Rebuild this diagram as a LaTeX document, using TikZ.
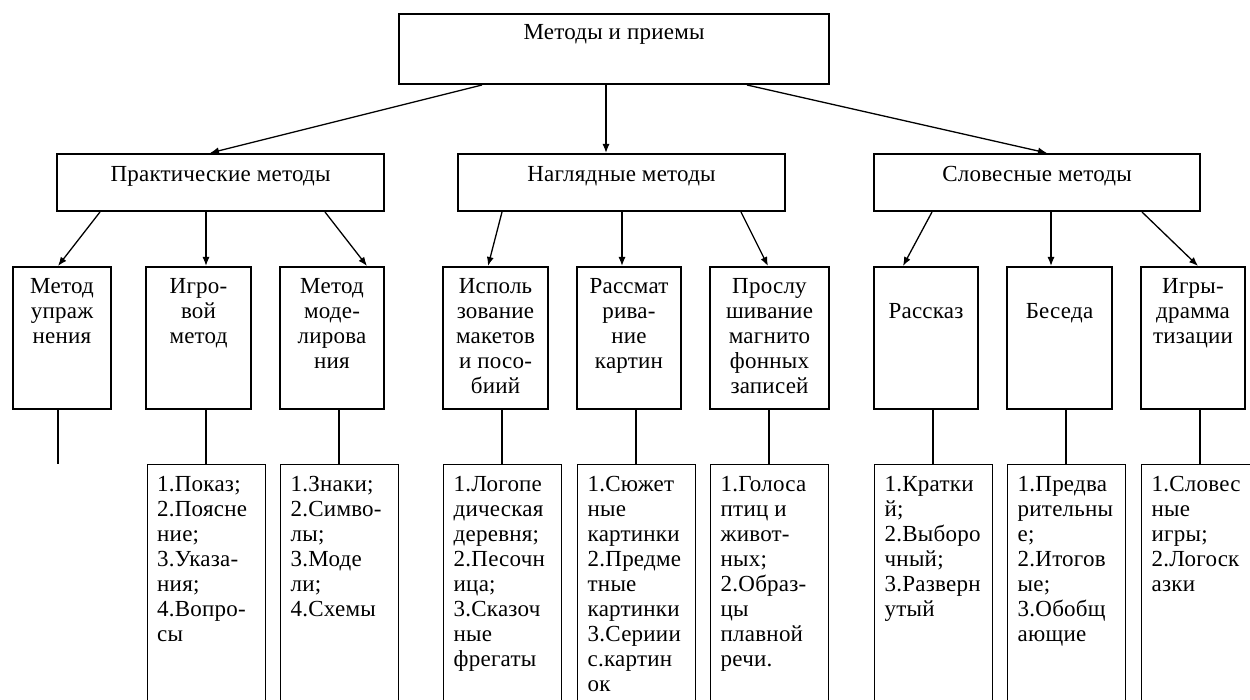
\documentclass[tikz,border=0pt]{standalone}
\usepackage{fontspec}
\setmainfont[LetterSpace=1]{Liberation Serif}
\usetikzlibrary{arrows.meta,calc}
\newcommand{\myfs}{\fontsize{23}{25}\selectfont}
\tikzset{
  tbox/.style={draw, line width=2pt, inner sep=0pt, minimum height=#1},
  lbox/.style={draw, line width=2pt, inner sep=0pt, minimum height=142pt},
  sbox/.style={draw, line width=1pt, inner sep=0pt, minimum height=256pt},
  ctxt/.style={anchor=north, inner sep=0pt, align=center, font=\myfs},
  ltxt/.style={anchor=north west, inner sep=0pt, align=left, font=\myfs},
  arr/.style={line width=1.3pt, -{Latex[length=9pt,width=7pt]}},
  lnk/.style={line width=1.3pt}
}
\begin{document}
\begin{tikzpicture}[x=1pt,y=-1pt]
\useasboundingbox (0,0) rectangle (1250,700);
\fill[white] (0,0) rectangle (1250,700);
\clip (0,0) rectangle (1250,700);
% top
\node[tbox=70pt, minimum width=430pt] (T) at (614,49) {};
\node[ctxt] (Tt) at ($(T.north)+(0,8.5)$) {\strut Методы и приемы};
% level 2
\node[tbox=57pt, minimum width=327pt] (P) at (220.5,182.5) {};
\node[tbox=57pt, minimum width=327pt] (N) at (621.5,182.5) {};
\node[tbox=57pt, minimum width=326pt] (S) at (1037,182.5) {};
\node[ctxt] (Pt) at ($(P.north)+(0,10.5)$) {\strut Практические методы};
\node[ctxt] (Nt) at ($(N.north)+(0,10.5)$) {\strut Наглядные методы};
\node[ctxt] (St) at ($(S.north)+(0,10.5)$) {\strut Словесные методы};
% level 3
\node[lbox, minimum width=98pt] (m1) at (62,338) {};
\node[lbox, minimum width=105pt] (m2) at (198.5,338) {};
\node[lbox, minimum width=104pt] (m3) at (332,338) {};
\node[lbox, minimum width=105pt] (m4) at (495.5,338) {};
\node[lbox, minimum width=104pt] (m5) at (629,338) {};
\node[lbox, minimum width=119pt] (m6) at (769.5,338) {};
\node[lbox, minimum width=104pt] (m7) at (926,338) {};
\node[lbox, minimum width=105pt] (m8) at (1059.5,338) {};
\node[lbox, minimum width=104pt] (m9) at (1193,338) {};
\node[ctxt] (m1t) at ($(m1.north)+(0,9.5)$) {\strut Метод\\упраж\\нения};
\node[ctxt] (m2t) at ($(m2.north)+(0,9.5)$) {\strut Игро-\\вой\\метод};
\node[ctxt] (m3t) at ($(m3.north)+(0,9.5)$) {\strut Метод\\моде-\\лирова\\ния};
\node[ctxt] (m4t) at ($(m4.north)+(0,9.5)$) {\strut Исполь\\зование\\макетов\\и посо-\\биий};
\node[ctxt] (m5t) at ($(m5.north)+(0,9.5)$) {\strut Рассмат\\рива-\\ние\\картин};
\node[ctxt] (m6t) at ($(m6.north)+(0,9.5)$) {\strut Прослу\\шивание\\магнито\\фонных\\записей};
\node[ctxt] (m7t) at ($(m7.north)+(0,34.5)$) {\strut Рассказ};
\node[ctxt] (m8t) at ($(m8.north)+(0,34.5)$) {\strut Беседа};
\node[ctxt] (m9t) at ($(m9.north)+(0,9.5)$) {\strut Игры-\\драмма\\тизации};
% bottom
\node[sbox, minimum width=118pt] (b2) at (206,592) {};
\node[sbox, minimum width=118pt] (b3) at (339,592) {};
\node[sbox, minimum width=118pt] (b4) at (502,592) {};
\node[sbox, minimum width=118pt] (b5) at (636,592) {};
\node[sbox, minimum width=118pt] (b6) at (769,592) {};
\node[sbox, minimum width=118pt] (b7) at (933,592) {};
\node[sbox, minimum width=118pt] (b8) at (1066,592) {};
\node[sbox, minimum width=118pt] (b9) at (1200,592) {};
\node[ltxt] (b2t) at ($(b2.north west)+(10.5,10.5)$) {\strut 1.Показ;\\2.Поясне\\ние;\\3.Указа-\\ния;\\4.Вопро-\\сы};
\node[ltxt] (b3t) at ($(b3.north west)+(11,10.5)$) {\strut 1.Знаки;\\2.Симво-\\лы;\\3.Моде\\ли;\\4.Схемы};
\node[ltxt] (b4t) at ($(b4.north west)+(11,10.5)$) {\strut 1.Логопе\\дическая\\деревня;\\2.Песочн\\ица;\\3.Сказоч\\ные\\фрегаты};
\node[ltxt] (b5t) at ($(b5.north west)+(11,10.5)$) {\strut 1.Сюжет\\ные\\картинки\\2.Предме\\тные\\картинки\\3.Сериии\\с.картин\\ок};
\node[ltxt] (b6t) at ($(b6.north west)+(11,10.5)$) {\strut 1.Голоса\\птиц и\\живот-\\ных;\\2.Образ-\\цы\\плавной\\речи.};
\node[ltxt] (b7t) at ($(b7.north west)+(11,10.5)$) {\strut 1.Кратки\\й;\\2.Выборо\\чный;\\3.Разверн\\утый};
\node[ltxt] (b8t) at ($(b8.north west)+(11,10.5)$) {\strut 1.Предва\\рительны\\е;\\2.Итогов\\ые;\\3.Обобщ\\ающие};
\node[ltxt] (b9t) at ($(b9.north west)+(11,10.5)$) {\strut 1.Словес\\ные\\игры;\\2.Логоск\\азки};
% arrows top -> level 2
\draw[arr] ([xshift=-132pt]T.south) -- ([xshift=-10.5pt]P.north);
\draw[arr] ([xshift=-8pt]T.south) -- ([xshift=-15.5pt]N.north);
\draw[arr] ([xshift=133pt]T.south) -- ([xshift=10pt]S.north);
% level 2 -> level 3
\draw[arr] ([xshift=-120.5pt]P.south) -- ([xshift=-4pt]m1.north);
\draw[arr] ([xshift=-14.5pt]P.south) -- ([xshift=7.5pt]m2.north);
\draw[arr] ([xshift=104.5pt]P.south) -- ([xshift=35pt]m3.north);
\draw[arr] ([xshift=-119.5pt]N.south) -- ([xshift=-7.5pt]m4.north);
\draw[arr] ([xshift=0.5pt]N.south) -- ([xshift=-7pt]m5.north);
\draw[arr] ([xshift=119.5pt]N.south) -- ([xshift=-1.5pt]m6.north);
\draw[arr] ([xshift=-105pt]S.south) -- ([xshift=-23pt]m7.north);
\draw[arr] ([xshift=14pt]S.south) -- ([xshift=-8.5pt]m8.north);
\draw[arr] ([xshift=105pt]S.south) -- ([xshift=5pt]m9.north);
% level 3 -> bottom
\coordinate (e1) at (58,464);
\draw[lnk] (e1 |- m1.south) -- (e1);
\draw[lnk] (b2.north |- m2.south) -- (b2.north);
\draw[lnk] (b3.north |- m3.south) -- (b3.north);
\draw[lnk] (b4.north |- m4.south) -- (b4.north);
\draw[lnk] (b5.north |- m5.south) -- (b5.north);
\draw[lnk] (b6.north |- m6.south) -- (b6.north);
\draw[lnk] (b7.north |- m7.south) -- (b7.north);
\draw[lnk] (b8.north |- m8.south) -- (b8.north);
\draw[lnk] (b9.north |- m9.south) -- (b9.north);
\end{tikzpicture}
\end{document}
